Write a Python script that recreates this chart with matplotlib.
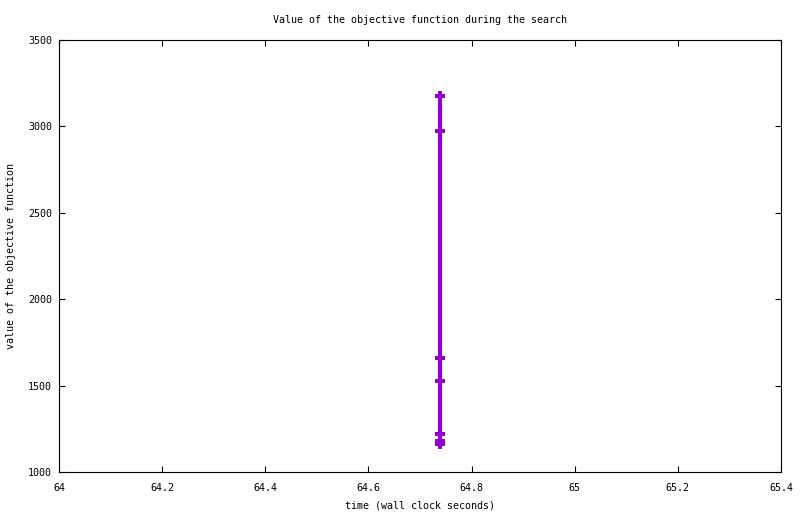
import matplotlib
matplotlib.use("Agg")
import matplotlib.pyplot as plt

# time (wall clock seconds) and objective values
times = [64.739, 64.739, 64.739, 64.739, 64.739, 64.739, 64.739]
values = [3178, 2975, 1661, 1528, 1220, 1179, 1162]

xticks = [64, 64.2, 64.4, 64.6, 64.8, 65, 65.2, 65.4]
xtick_labels = ["64", "64.2", "64.4", "64.6", "64.8", "65", "65.2", "65.4"]
yticks = [1000, 1500, 2000, 2500, 3000, 3500]

plt.rcParams['font.family'] = ['DejaVu Sans Mono']
plt.rcParams['font.size'] = 7.2

fig = plt.figure(figsize=(8, 5.14), dpi=100)
ax = fig.add_axes([59/800, 42/514, 722/800, 432/514])

ax.plot(times, values, color='#9400D3', linewidth=3, marker='P',
        markersize=7.5, markeredgewidth=0, solid_capstyle='butt')

ax.set_xlim(64, 65.4)
ax.set_ylim(1000, 3500)
ax.set_xticks(xticks)
ax.set_xticklabels(xtick_labels)
ax.set_yticks(yticks)
ax.tick_params(axis='x', direction='in', length=4.5, width=0.8, top=True, pad=8)
ax.tick_params(axis='y', direction='in', length=4.5, width=0.8, right=True, pad=5)
for s in ax.spines.values():
    s.set_linewidth(0.8)

ax.set_title("Value of the objective function during the search", fontsize=7.2, pad=12.5)
ax.set_xlabel("time (wall clock seconds)", labelpad=5.5)
ax.set_ylabel("value of the objective function", labelpad=8.5)

fig.savefig("out.png", dpi=100)
